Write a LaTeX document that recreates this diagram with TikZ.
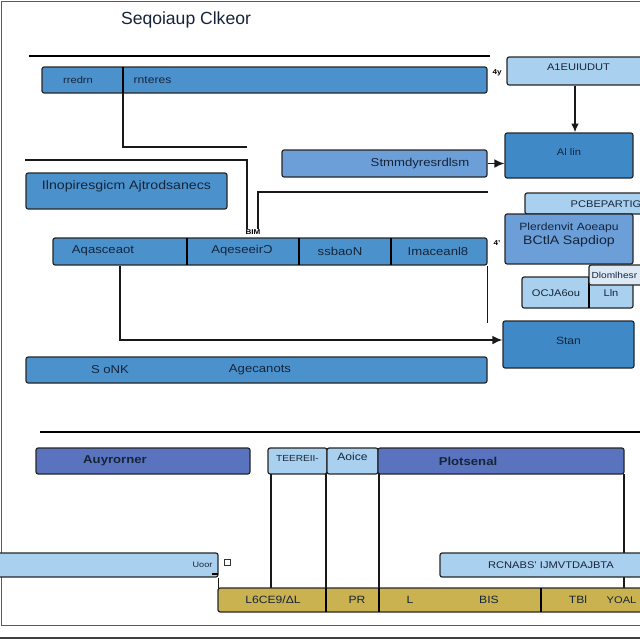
\documentclass[tikz,border=0pt]{standalone}
\usepackage{fontspec}
\setmainfont[FakeStretch=1.15]{Liberation Sans}
\newfontfamily\plainfont{Liberation Sans}
\usetikzlibrary{fit,arrows.meta}

\definecolor{ink}{HTML}{16243A}
\definecolor{barblue}{HTML}{4B92CD}
\definecolor{softblue}{HTML}{6C9ED8}
\definecolor{deepblue}{HTML}{3E89C6}
\definecolor{paleblue}{HTML}{A9D0EE}
\definecolor{mistblue}{HTML}{DDEAF6}
\definecolor{slate}{HTML}{5A73BF}
\definecolor{gold}{HTML}{C9B24F}
\definecolor{rim}{HTML}{2E6F5E}

\begin{document}
\begin{tikzpicture}[x=0.4mm, y=-0.4mm, line width=1.5pt,
    box/.style={draw=black!85, line width=1.4pt, rounded corners=2.5pt, inner sep=0pt, text=ink,
                font=\fontsize{12}{14}\selectfont},
    txt/.style={text=ink, font=\fontsize{13}{15}\selectfont, inner sep=0pt},
    bold/.style={txt, font=\fontsize{13}{15}\selectfont\bfseries},
    glyph/.style={text=black, font=\fontsize{8}{9}\selectfont\bfseries, inner sep=0pt},
    link/.style={draw=black!90, line width=1.6pt}]
\useasboundingbox (0,0) rectangle (640,640);
% frame
\draw[rim, line width=1pt] (640,1) -- (1,1) -- (1,625) -- (640,625);
\draw[black!75, line width=1.5pt] (0,638) -- (640,638);

\node[txt, font=\plainfont\fontsize{20}{23}\selectfont] (title) at (186,20) {Seqoiaup Clkeor};

% upper block
\draw (29,56) -- (490,56);
\node[box, fill=barblue, fit={(42,67) (487,93)}] (hdr) {};
\draw (123,67) -- (123,93);
\node[txt, font=\fontsize{11}{13}\selectfont] (hdra) at (78,80) {rredrn};
\node[txt, anchor=west, font=\fontsize{12}{14}\selectfont] (hdrb) at (133,80) {rnteres};
\coordinate (hdrcut) at (123,93);
\coordinate (tap) at (247,147);
\draw[link] (hdrcut) |- (tap);

\node[box, fill=paleblue, fit={(507,57) (650,85)}, font=\fontsize{11}{13}\selectfont] (aout) {A1EUIUDUT};
\node[glyph] (aoutmk) at (497,73) {4y};
\node[box, fill=deepblue, fit={(505,133) (633,178)}, font=\fontsize{11}{13}\selectfont] (alin) {Al lin};
\draw[link, -{Latex[length=3.5mm,width=3mm]}] (aout.south -| 575,0) -- (alin.north -| 575,0);

\node[box, fill=softblue, fit={(282,150) (487,177)}] (stm) {};
\node[txt] (stmtxt) at (420,164) {Stmmdyresrdlsm};
\draw[link, -{Latex[length=4mm,width=3.5mm]}] (stm.east) -- (alin.west |- stm.east);

\node[box, fill=barblue, fit={(26,173) (227,209)}, font=\fontsize{14}{16}\selectfont] (intro) {Ilnopiresgicm Ajtrodsanecs};

\node[glyph] (bim) at (253,232) {BIM};
\coordinate (left) at (25,160);
\coordinate (right) at (488,192);
\draw[link] (left) -| (bim.north -| 247,0);
\draw[link] (bim.north -| 258,0) |- (right);

% middle row
\node[box, fill=barblue, fit={(53,238) (487,265)}] (row) {};
\foreach \x in {187,299,391}
    \draw (\x,238) -- (\x,265);
\node[txt] (rowa) at (103,251) {Aqasceaot};
\node[txt] (rowb) at (242,251) {Aqeseeir\reflectbox{C}};
\node[txt] (rowc) at (340,251) {ssbaoN};
\node[txt] (rowd) at (438,251) {Imaceanl8};
\node[glyph] (rowmk) at (497,243) {4'};

% right stack
\node[box, fill=paleblue, fit={(525,193) (650,214)}] (pcb) {};
\node[txt, anchor=west, font=\fontsize{11}{13}\selectfont] (pcbtxt) at (570,204) {PCBEPARTIG};
\node[box, fill=softblue, fit={(505,214) (633,264)}, align=center] (pler)
    {Plerdenvit Aoeapu\\[2pt]{\fontsize{14}{16}\selectfont BCtlA Sapdiop}};
\node[box, fill=paleblue, fit={(522,277) (633,308)}] (ocja) {};
\draw (589,277) -- (589,308);
\node[txt, font=\fontsize{11}{13}\selectfont] (ocjaa) at (556,293) {OCJA6ou};
\node[txt, font=\fontsize{11}{13}\selectfont] (ocjab) at (611,293) {Lln};
\node[box, fill=mistblue, fit={(589,265) (650,285)}] (dlom) {};
\node[txt, anchor=west, font=\fontsize{10}{12}\selectfont] (dlomtxt) at (591,275) {Dlomlhesr};
\node[box, fill=deepblue, fit={(503,321) (634,368)}] (stan) {Stan};

\draw[link, -{Latex[length=4mm,width=3.5mm]}] (row.south -| 120,0) |- (stan.west |- 0,340);
\draw[link] (row.south east) -- ++(0,57);

\node[box, fill=barblue, fit={(26,357) (487,383)}] (sonk) {};
\node[txt] (sonka) at (110,370) {S oNK};
\node[txt] (sonkb) at (260,370) {Agecanots};

% lower block
\draw (40,432) -- (640,432);
\node[box, fill=slate, fit={(36,448) (250,474)}] (auy) {};
\node[bold] (auytxt) at (115,461) {Auyrorner};
\node[box, fill=paleblue, fit={(268,448) (327,474)}, font=\fontsize{10}{12}\selectfont] (teer) {TEEREII-};
\node[box, fill=paleblue, fit={(327,448) (378,474)}] (aoic) {Aoice};
\node[box, fill=slate, fit={(378,448) (624,474)}] (plot) {};
\node[bold] (plottxt) at (468,461) {Plotsenal};
\foreach \x in {271,326,379,624}
    \draw[link] (\x,474) -- (\x,588);

\node[box, fill=paleblue, fit={(-10,553) (218,577)}] (uoor) {};
\node[txt, anchor=east, font=\fontsize{9}{11}\selectfont] (uoortxt) at (213,565) {Uoor};
\node[draw=black!80, line width=0.9pt, minimum size=2.4mm, inner sep=0pt] (sq) at (227,562) {};
\draw[link] (uoor.south east) -- ++(0,11);
\draw (212,574) -- (218,574);

\node[box, fill=paleblue, fit={(440,553) (650,577)}] (rcn) {};
\node[txt, font=\fontsize{11}{13}\selectfont] (rcntxt) at (551,565) {RCNABS' IJMVTDAJBTA};

\node[box, fill=gold, fit={(218,588) (650,612)}] (gold) {};
\foreach \x in {326,379,541}
    \draw (\x,588) -- (\x,612);
\node[txt, font=\fontsize{12}{14}\selectfont] (ga) at (273,600) {L6CE9/ΔL};
\node[txt, font=\fontsize{12}{14}\selectfont] (gb) at (357,600) {PR};
\node[txt, font=\fontsize{12}{14}\selectfont] (gc) at (410,600) {L};
\node[txt, font=\fontsize{12}{14}\selectfont] (gd) at (489,600) {BIS};
\node[txt, font=\fontsize{12}{14}\selectfont] (ge) at (578,600) {TBl};
\node[txt, font=\fontsize{11}{13}\selectfont, anchor=east] (gf) at (637,600) {YOAL};
\end{tikzpicture}
\end{document}
